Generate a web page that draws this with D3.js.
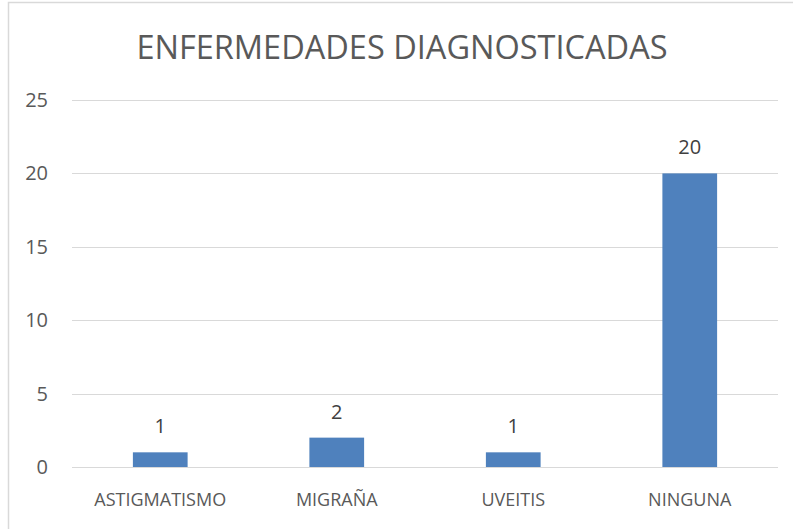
<!DOCTYPE html>
<html><head><meta charset="utf-8">
<script src="https://cdn.jsdelivr.net/npm/d3@7"></script>
<style>body{margin:0;background:#fff}svg{display:block}</style>
</head><body>
<script>
const categories = ["ASTIGMATISMO", "MIGRAÑA", "UVEITIS", "NINGUNA"];
const values = [1, 2, 1, 20];
const yTicks = [0, 5, 10, 15, 20, 25];
const title = "ENFERMEDADES DIAGNOSTICADAS";

const W = 793, H = 529;
const font = "'Open Sans', sans-serif";
const svg = d3.select("body").append("svg").attr("width", W).attr("height", H);
svg.append("rect").attr("x", 8.5).attr("y", 2.5).attr("width", 900).attr("height", 600)
  .attr("fill", "#fff").attr("stroke", "#d9d9d9").attr("stroke-width", 1.5);

const x = d3.scaleBand().domain(categories).range([72, 778]).paddingInner(0.69).paddingOuter(0.345);
const y = d3.scaleLinear().domain([0, 25]).range([467, 100]);

svg.append("g").selectAll("line").data(yTicks).join("line")
  .attr("x1", 72).attr("x2", 778).attr("y1", d => Math.round(y(d)) + 0.5).attr("y2", d => Math.round(y(d)) + 0.5)
  .attr("stroke", "#d9d9d9").attr("stroke-width", 1.2);

svg.append("g").selectAll("text").data(yTicks).join("text")
  .attr("x", 48).attr("y", d => y(d) + 7).attr("text-anchor", "end")
  .attr("font-family", font).attr("font-size", 20).attr("fill", "#595959").text(d => d);

svg.append("g").selectAll("rect").data(values).join("rect")
  .attr("x", (d, i) => x(categories[i])).attr("width", x.bandwidth())
  .attr("y", d => y(d)).attr("height", d => y(0) - y(d)).attr("fill", "#4f81bd");

svg.append("g").selectAll("text").data(values).join("text")
  .attr("x", (d, i) => x(categories[i]) + x.bandwidth() / 2).attr("y", d => y(d) - 19)
  .attr("text-anchor", "middle").attr("font-family", font).attr("font-size", 20).attr("fill", "#404040").text(d => d);

svg.append("g").selectAll("text").data(categories).join("text")
  .attr("x", d => x(d) + x.bandwidth() / 2).attr("y", 506)
  .attr("text-anchor", "middle").attr("font-family", font).attr("font-size", 18).attr("fill", "#595959").text(d => d);

svg.append("text").attr("x", 402).attr("y", 59).attr("text-anchor", "middle")
  .attr("font-family", font).attr("font-size", 32.5).attr("fill", "#595959").text(title);
</script>
</body></html>
